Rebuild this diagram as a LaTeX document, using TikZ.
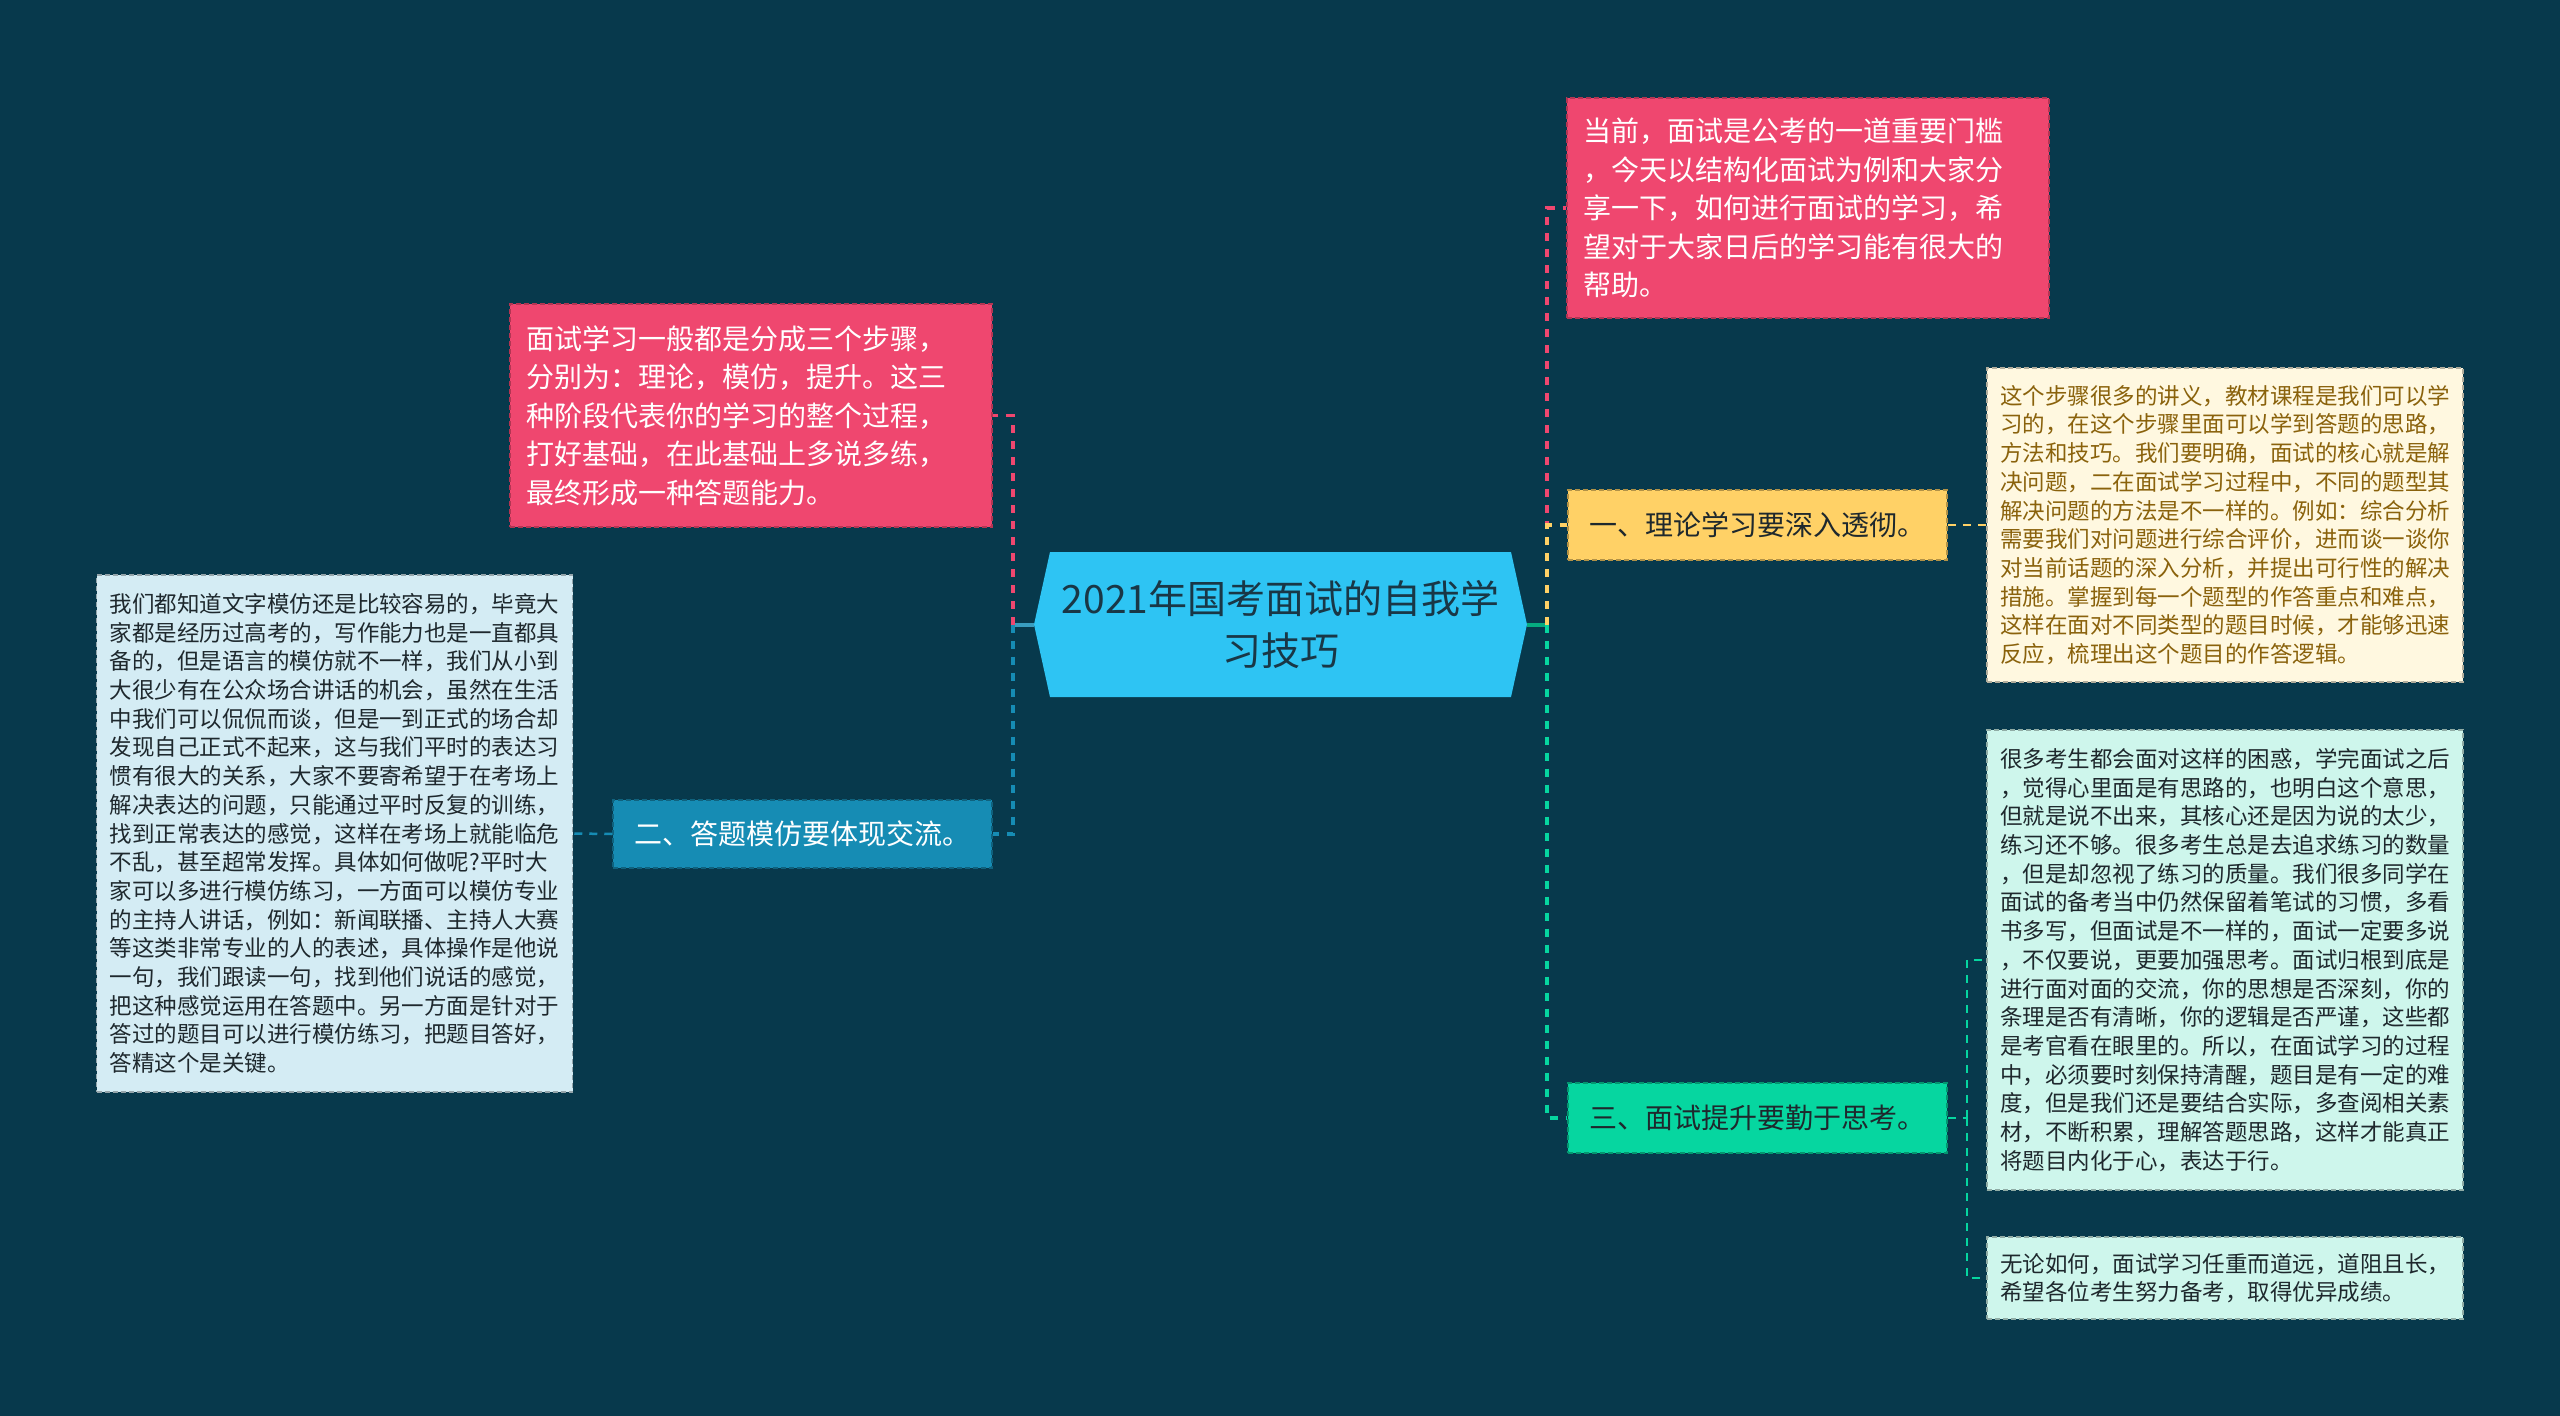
\documentclass[tikz,border=0pt]{standalone}
\usepackage{fontspec}
\setmainfont{Noto Sans CJK SC}
\definecolor{bgnavy}{RGB}{7,57,76}
\definecolor{rosefill}{RGB}{239,71,111}
\definecolor{hubblue}{RGB}{46,196,243}
\definecolor{hubtext}{RGB}{25,55,70}
\definecolor{sunfill}{RGB}{255,209,102}
\definecolor{creamfill}{RGB}{255,248,224}
\definecolor{creamtext}{RGB}{138,98,12}
\definecolor{seafill}{RGB}{22,140,180}
\definecolor{icefill}{RGB}{212,236,244}
\definecolor{mintfill}{RGB}{6,214,160}
\definecolor{mintpale}{RGB}{206,246,236}
\definecolor{inkdark}{RGB}{30,40,45}

\begin{document}
\begin{tikzpicture}[
  x=1pt, y=-1pt,
  stub/.style={line width=4pt},
  link/.style={line width=3.5pt, dash pattern=on 8pt off 8pt},
  sublink/.style={line width=2.5pt, dash pattern=on 8pt off 7pt},
  boxline/.style={line width=1.5pt, dash pattern=on 5pt off 3pt},
  hubbox/.style={minimum width=493pt, minimum height=145pt, inner sep=0pt,
    align=center, text=hubtext, fill=bgnavy,
    font=\fontsize{39}{52}\selectfont,
    path picture={\fill[hubblue] (path picture bounding box.west)
      -- ([xshift=16pt]path picture bounding box.north west)
      -- ([xshift=-16pt]path picture bounding box.north east)
      -- (path picture bounding box.east)
      -- ([xshift=-16pt]path picture bounding box.south east)
      -- ([xshift=16pt]path picture bounding box.south west) -- cycle;}},
  note/.style={boxline, fill=rosefill, draw=rosefill!75!black, text=white,
    align=left, text width=450pt, inner xsep=16pt, inner ysep=8pt,
    font=\fontsize{28}{38.5}\selectfont},
  topic/.style={boxline, fill=#1, draw=#1!70!black, minimum width=379pt,
    minimum height=70pt, inner sep=0pt, font=\fontsize{28}{34}\selectfont},
  detail/.style={boxline, fill=#1, draw=#1!70!black, align=left,
    text width=450pt, inner xsep=13pt, inner ysep=8pt,
    font=\fontsize{22.5}{28.7}\selectfont}
]
\path[use as bounding box] (0,0) rectangle (2560,1416);
\fill[bgnavy] (0,0) rectangle (2560,1416);

% centre
\node[hubbox] (hub) at (1280.5,624.5) {2021年国考面试的自我学\\习技巧};
\coordinate (jl) at (1013,624.5);
\coordinate (jr) at (1547,624.5);

% left side
\node[note, minimum height=223pt] (steps) at (751,415.5)
  {面试学习一般都是分成三个步骤，\\分别为：理论，模仿，提升。这三\\种阶段代表你的学习的整个过程，\\打好基础，在此基础上多说多练，\\最终形成一种答题能力。};
\node[topic=seafill, text=white, minimum height=68pt] (imit) at (802.5,834) {二、答题模仿要体现交流。};
\node[detail=icefill, text=inkdark, minimum height=517pt] (imitnote) at (334.5,833.5)
  {我们都知道文字模仿还是比较容易的，毕竟大\\家都是经历过高考的，写作能力也是一直都具\\备的，但是语言的模仿就不一样，我们从小到\\大很少有在公众场合讲话的机会，虽然在生活\\中我们可以侃侃而谈，但是一到正式的场合却\\发现自己正式不起来，这与我们平时的表达习\\惯有很大的关系，大家不要寄希望于在考场上\\解决表达的问题，只能通过平时反复的训练，\\找到正常表达的感觉，这样在考场上就能临危\\不乱，甚至超常发挥。具体如何做呢?平时大\\家可以多进行模仿练习，一方面可以模仿专业\\的主持人讲话，例如：新闻联播、主持人大赛\\等这类非常专业的人的表述，具体操作是他说\\一句，我们跟读一句，找到他们说话的感觉，\\把这种感觉运用在答题中。另一方面是针对于\\答过的题目可以进行模仿练习，把题目答好，\\答精这个是关键。};

% right side
\node[note, minimum height=220pt] (intro) at (1808,208)
  {当前，面试是公考的一道重要门槛\\，今天以结构化面试为例和大家分\\享一下，如何进行面试的学习，希\\望对于大家日后的学习能有很大的\\帮助。};
\node[topic=sunfill, text=inkdark] (theory) at (1757.5,525) {一、理论学习要深入透彻。};
\node[detail=creamfill, text=creamtext, minimum height=314pt] (theorynote) at (2225,525)
  {这个步骤很多的讲义，教材课程是我们可以学\\习的，在这个步骤里面可以学到答题的思路，\\方法和技巧。我们要明确，面试的核心就是解\\决问题，二在面试学习过程中，不同的题型其\\解决问题的方法是不一样的。例如：综合分析\\需要我们对问题进行综合评价，进而谈一谈你\\对当前话题的深入分析，并提出可行性的解决\\措施。掌握到每一个题型的作答重点和难点，\\这样在面对不同类型的题目时候，才能够迅速\\反应，梳理出这个题目的作答逻辑。};
\node[topic=mintfill, text=inkdark] (think) at (1757.5,1118) {三、面试提升要勤于思考。};
\node[detail=mintpale, text=inkdark, minimum height=460pt] (thinknote) at (2225,960)
  {很多考生都会面对这样的困惑，学完面试之后\\，觉得心里面是有思路的，也明白这个意思，\\但就是说不出来，其核心还是因为说的太少，\\练习还不够。很多考生总是去追求练习的数量\\，但是却忽视了练习的质量。我们很多同学在\\面试的备考当中仍然保留着笔试的习惯，多看\\书多写，但面试是不一样的，面试一定要多说\\，不仅要说，更要加强思考。面试归根到底是\\进行面对面的交流，你的思想是否深刻，你的\\条理是否有清晰，你的逻辑是否严谨，这些都\\是考官看在眼里的。所以，在面试学习的过程\\中，必须要时刻保持清醒，题目是有一定的难\\度，但是我们还是要结合实际，多查阅相关素\\材，不断积累，理解答题思路，这样才能真正\\将题目内化于心，表达于行。};
\node[detail=mintpale, text=inkdark, minimum height=82pt] (closing) at (2225,1278)
  {无论如何，面试学习任重而道远，道阻且长，\\希望各位考生努力备考，取得优异成绩。};
\coordinate (jt) at (1967,1118);

% connectors
\draw[stub, seafill!85!white] (hub.west) -- (jl);
\draw[stub, mintfill!80!black] (hub.east) -- (jr);
\draw[link, rosefill] (jl) |- (steps.east);
\draw[link, seafill] (jl) |- (imit.east);
\draw[sublink, seafill] (imit.west) -- (imitnote.east);
\draw[link, rosefill] (jr) |- (intro.west);
\draw[link, sunfill] (jr) |- (theory.west);
\draw[sublink, sunfill] (theory.east) -- (theorynote.west);
\draw[link, mintfill] (jr) |- (think.west);
\draw[sublink, mintfill] (think.east) -- (jt);
\draw[sublink, mintfill] (jt) |- (thinknote.west);
\draw[sublink, mintfill] (jt) |- (closing.west);
\end{tikzpicture}
\end{document}
